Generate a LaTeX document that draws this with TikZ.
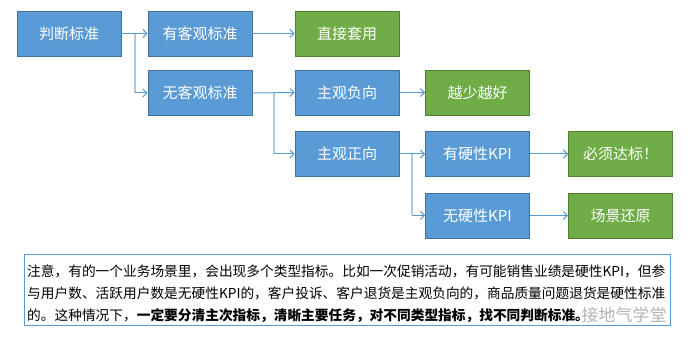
\documentclass[tikz,border=0pt]{standalone}
\usepackage{fontspec}
\setmainfont{Noto Sans CJK SC}
\newfontfamily\cjk{Noto Sans CJK SC}
\usetikzlibrary{arrows.meta}
\definecolor{bfill}{HTML}{5B9BD5}
\definecolor{bdraw}{HTML}{41719C}
\definecolor{gfill}{HTML}{70AD47}
\definecolor{gdraw}{HTML}{507E32}
\definecolor{lline}{HTML}{A9CBEA}
\tikzset{
  box/.style={minimum width=104pt, minimum height=45pt, inner sep=0pt, text=white, font=\cjk\fontsize{15pt}{18pt}\selectfont, line width=0.9pt},
  bluebox/.style={box, fill=bfill, draw=bdraw},
  greenbox/.style={box, fill=gfill, draw=gdraw},
  arr/.style={draw=bfill, line width=1pt, -{Straight Barb[length=4pt,width=8pt]}},
  vline/.style={draw=lline, line width=2pt},
  body/.style={anchor=west, inner sep=0pt, font=\cjk\fontsize{13.7pt}{16pt}\selectfont},
}
\begin{document}
\begin{tikzpicture}[x=1pt,y=-1pt]
\useasboundingbox[fill=white] (0,0) rectangle (688,344);
\node[bluebox] (n1) at (69,33.5) {判断标准};
\node[bluebox] (n2) at (200,33.5) {有客观标准};
\node[greenbox] (n3) at (347,33.5) {直接套用};
\node[bluebox] (n4) at (200,93) {无客观标准};
\node[bluebox] (n5) at (347,92.5) {主观负向};
\node[greenbox] (n6) at (477.5,92.5) {越少越好};
\node[bluebox] (n7) at (347,154) {主观正向};
\node[bluebox] (n8) at (477.5,154) {有硬性KPI};
\node[greenbox] (n9) at (620.5,154) {必须达标！};
\node[bluebox] (n10) at (477.5,215.5) {无硬性KPI};
\node[greenbox] (n11) at (620.5,215.5) {场景还原};
% junction points
\coordinate (j1) at (135,33.5);
\coordinate (j1b) at (j1 |- n4.west);
\coordinate (j2) at (274,93);
\coordinate (j2b) at (j2 |- n7.west);
\coordinate (j3) at (412,154);
\coordinate (j3b) at (j3 |- n10.west);
\draw[vline] (j1) -- (j1b);
\draw[vline] (j2) -- (j2b);
\draw[vline] (j3) -- (j3b);
\draw[arr] (n1.east) -- (n2.west);
\draw[arr] (j1b) -- (n4.west);
\draw[arr] (n2.east) -- (n3.west);
\draw[arr] (n4.east) -- (n5.west);
\draw[arr] (j2b) -- (n7.west);
\draw[arr] (n5.east) -- (n6.west);
\draw[arr] (n7.east) -- (n8.west);
\draw[arr] (j3b) -- (n10.west);
\draw[arr] (n8.east) -- (n9.west);
\draw[arr] (n10.east) -- (n11.west);
% note box
\draw[draw=bfill, line width=1pt] (24,255) rectangle (670,326);
\node[body] (t1) at (27,271) {注意，有的一个业务场景里，会出现多个类型指标。比如一次促销活动，有可能销售业绩是硬性KPI，但参};
\node[body] (t2) at (27,293.5) {与用户数、活跃用户数是无硬性KPI的，客户投诉、客户退货是主观负向的，商品质量问题退货是硬性标准};
\node[body] (t3) at (27,316) {的。这种情况下，\textbf{一定要分清主次指标，清晰主要任务，对不同类型指标，找不同判断标准。}};
\node[anchor=center, inner sep=0pt, text=gray!70, opacity=0.85, font=\cjk\fontsize{17pt}{20pt}\selectfont] (wm) at (624,315) {接地气学堂};
\end{tikzpicture}
\end{document}
